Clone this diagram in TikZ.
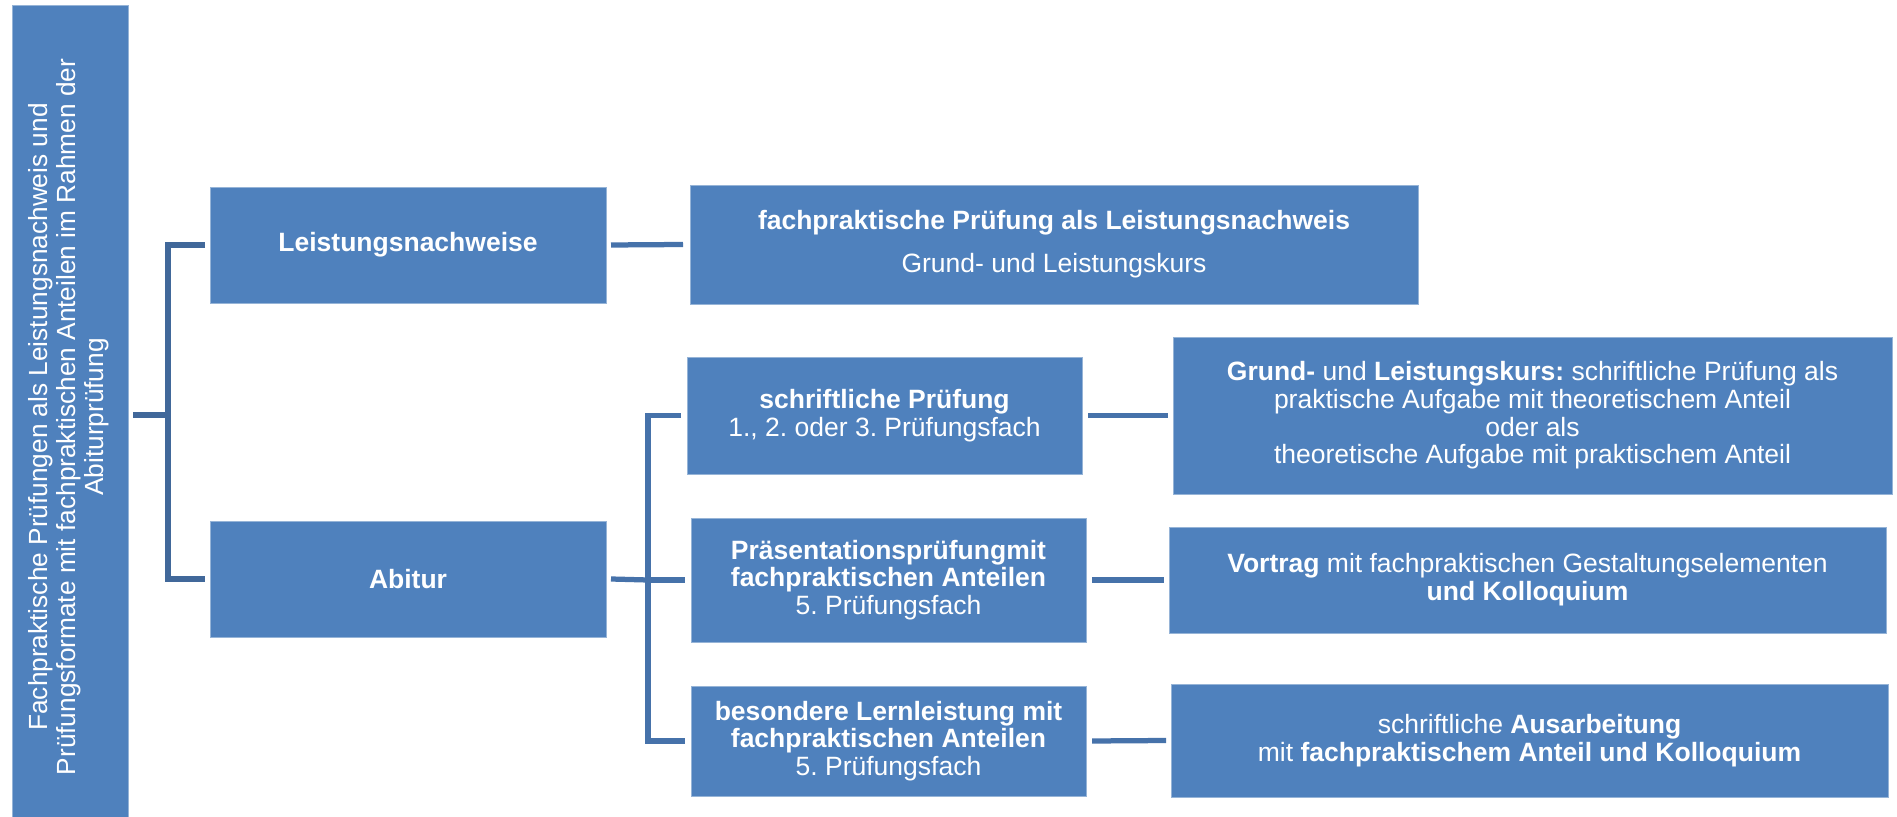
\documentclass[tikz,border=0pt]{standalone}
\usepackage{fontspec}
\setmainfont{Liberation Sans}
\usetikzlibrary{calc}
\frenchspacing
\definecolor{boxfill}{RGB}{79,129,189}
\definecolor{boxedge}{RGB}{150,180,215}
\definecolor{conndark}{RGB}{65,104,154}
\definecolor{connmid}{RGB}{70,114,170}
\tikzset{
  bx/.style 2 args={rectangle, fill=boxfill, draw=boxedge, line width=0.3pt,
    minimum width=#1*0.4pt, minimum height=#2*0.4pt, inner sep=0pt, outer sep=0pt,
    text=white, align=center, font=\fontsize{10.6pt}{11.1pt}\selectfont\frenchspacing},
  conna/.style={draw=conndark, line width=2.1pt},
  connb/.style={draw=connmid, line width=2.1pt},
}
\begin{document}
\begin{tikzpicture}[x=0.4pt,y=-0.4pt]
\useasboundingbox (0,0) rectangle (1897,817);
% nodes
\node[bx={116}{812}] (L) at (70,411) {};
\node[rotate=90, text=white, align=center, font=\fontsize{10.5pt}{11.2pt}\selectfont] (Lt) at (69,417)
  {Fachpraktische Prüfungen als Leistungsnachweis und\\Prüfungsformate mit fachpraktischen Anteilen im Rahmen der\\Abiturprüfung};
\node[bx={396}{116}] (LN) at (408,245) {\textbf{Leistungsnachweise}};
\node[bx={396}{116}] (AB) at (408,579) {\textbf{Abitur}};
\node[bx={728}{119}] (FP) at (1054,244.5) {\textbf{fachpraktische Prüfung als Leistungsnachweis}\\[6pt]Grund- und Leistungskurs};
\node[bx={395}{117}] (SP) at (884.5,415.5) {\textbf{schriftliche Prüfung}\\1., 2. oder 3. Prüfungsfach};
\node[bx={395}{124}] (PP) at (888.5,580) {\textbf{Präsentationsprüfungmit}\\\textbf{fachpraktischen Anteilen}\\5. Prüfungsfach};
\node[bx={395}{110}] (BL) at (888.5,741) {\textbf{besondere Lernleistung mit}\\\textbf{fachpraktischen Anteilen}\\5. Prüfungsfach};
\node[bx={719}{157}] (GL) at (1532.5,415.5) {\textbf{Grund-} und \textbf{Leistungskurs:} schriftliche Prüfung als\\praktische Aufgabe mit theoretischem Anteil\\oder als\\theoretische Aufgabe mit praktischem Anteil};
\node[bx={717}{106}] (VT) at (1527.5,580) {\textbf{Vortrag} mit fachpraktischen Gestaltungselementen\\\textbf{und Kolloquium}};
\node[bx={717}{113}] (AU) at (1529.5,740.5) {schriftliche \textbf{Ausarbeitung}\\mit \textbf{fachpraktischem Anteil und Kolloquium}};
% junctions
\coordinate (j1) at (168,415);
\coordinate (j2) at (648,580);
% connectors
\draw[conna] ([shift={(5,4)}]L.east) -- (j1);
\draw[conna] ([shift={(-5,0)}]LN.west) -| (j1) |- ([shift={(-5,0)}]AB.west);
\draw[connb] ([shift={(5,0)}]LN.east) -- ([shift={(-7,0)}]FP.west);
\draw[connb] ([shift={(5,0)}]AB.east) -- (j2);
\draw[connb] ([shift={(-6,0)}]SP.west) -| (j2) |- ([shift={(-6,0)}]BL.west);
\draw[connb] (j2) -- ([shift={(-6,0)}]PP.west);
\draw[connb] ([shift={(6,0)}]SP.east) -- ([shift={(-5,0)}]GL.west);
\draw[connb] ([shift={(6,0)}]PP.east) -- ([shift={(-5,0)}]VT.west);
\draw[connb] ([shift={(6,0)}]BL.east) -- ([shift={(-5,0)}]AU.west);
\end{tikzpicture}
\end{document}
